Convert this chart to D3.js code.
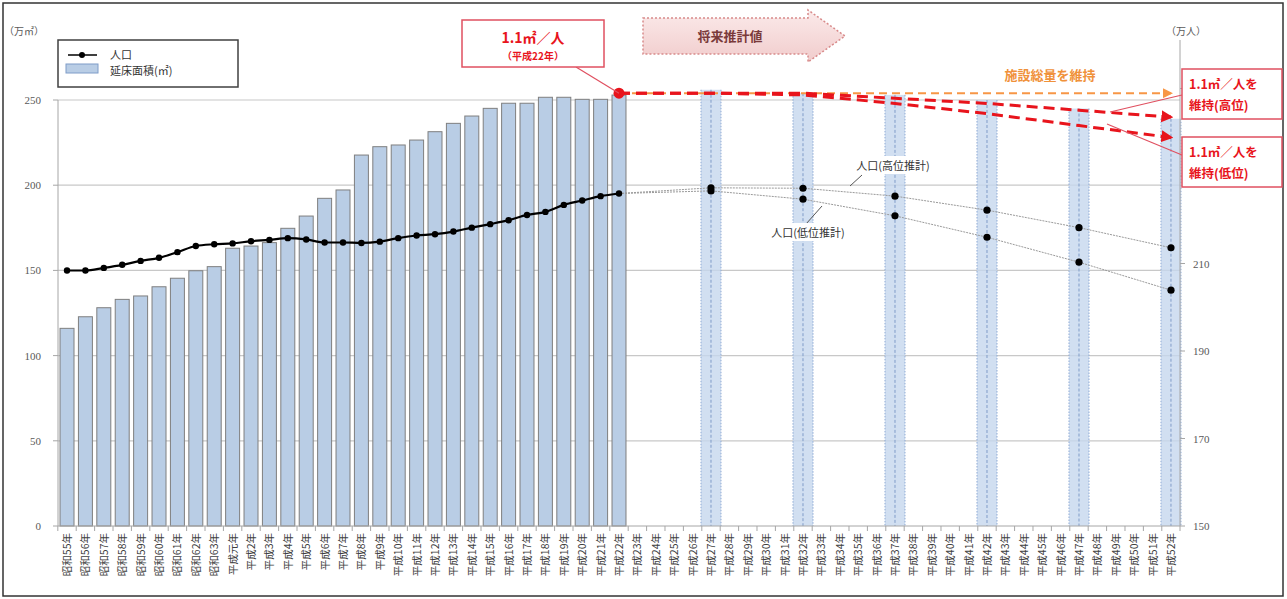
<!DOCTYPE html>
<html><head><meta charset="utf-8">
<script src="https://cdn.jsdelivr.net/npm/d3@7"></script>
<style>
html,body{margin:0;padding:0;background:#fff;}
svg{display:block;}
.jp{font-family:"Noto Sans CJK JP","Noto Sans",sans-serif;}
.num{font-family:"Liberation Serif","DejaVu Serif",serif;}
</style></head>
<body>
<script>
// ---- data ----
const categories = ["昭和55年","昭和56年","昭和57年","昭和58年","昭和59年","昭和60年","昭和61年","昭和62年","昭和63年","平成元年",
  "平成2年","平成3年","平成4年","平成5年","平成6年","平成7年","平成8年","平成9年","平成10年","平成11年","平成12年",
  "平成13年","平成14年","平成15年","平成16年","平成17年","平成18年","平成19年","平成20年","平成21年","平成22年",
  "平成23年","平成24年","平成25年","平成26年","平成27年","平成28年","平成29年","平成30年","平成31年","平成32年",
  "平成33年","平成34年","平成35年","平成36年","平成37年","平成38年","平成39年","平成40年","平成41年","平成42年",
  "平成43年","平成44年","平成45年","平成46年","平成47年","平成48年","平成49年","平成50年","平成51年","平成52年"];
const histYears = categories.slice(0, 31);
const floorArea = [116.0,122.8,128.1,133.0,135.0,140.4,145.4,149.8,152.2,163.0,164.3,166.3,174.7,181.9,192.3,197.2,
  217.7,222.6,223.6,226.5,231.4,236.3,240.6,245.1,248.1,248.1,251.6,251.6,250.4,250.4,252.9];
const population = [208.4,208.4,209.0,209.7,210.6,211.3,212.6,214.0,214.4,214.6,215.1,215.4,215.8,215.5,214.8,214.8,
  214.7,215.0,215.8,216.4,216.7,217.3,218.2,219.0,219.9,221.1,221.8,223.4,224.4,225.4,226.0];
const projYears = ["平成22年","平成27年","平成32年","平成37年","平成42年","平成47年","平成52年"];
const popHigh = [226.0,227.3,227.2,225.4,222.2,218.2,213.6];
const popLow  = [226.0,226.6,224.7,220.9,216.0,210.3,203.9];
const projBarYears = ["平成27年","平成32年","平成37年","平成42年","平成47年","平成52年"];
const projFloor = [256,254,253,250,245,239];
const keepHigh = [254,254,254,251,248,244,240];
const keepLow  = [254,254,253,248,242,235,228];
const keepTotalYears = ["平成22年","平成52年"];
const keepTotal = [254,254];
const leftTicks = [0,50,100,150,200,250];
const rightTicks = [150,170,190,210,230,250];
const rightTickLabels = [150,170,190,210]; // 230 and 250 are hidden behind the callout boxes

// ---- layout ----
const W = 1287, H = 599;
const svg = d3.select("body").append("svg").attr("width", W).attr("height", H);
const x = d3.scaleBand().domain(categories).range([58,1180]).paddingInner(0.24).paddingOuter(0.11);
const cx = c => x(c) + x.bandwidth()/2;
const yL = d3.scaleLinear().domain([0,250]).range([526,100]);
const yR = d3.scaleLinear().domain([150,260]).range([526,44.75]);

const defs = svg.append("defs");
function marker(id, color, size){
  defs.append("marker").attr("id", id).attr("viewBox","0 0 10 10").attr("refX",8).attr("refY",5)
    .attr("markerWidth",size).attr("markerHeight",size).attr("orient","auto")
    .append("path").attr("d","M0,0 L10,5 L0,10 z").attr("fill", color);
}
marker("arrRed", "#e8141c", 4);
marker("arrOrg", "#f79646", 5);
const grad = defs.append("linearGradient").attr("id","pinkGrad").attr("x1",0).attr("x2",0).attr("y1",0).attr("y2",1);
grad.append("stop").attr("offset","0%").attr("stop-color","#fbeaea");
grad.append("stop").attr("offset","100%").attr("stop-color","#f1cccc");

// outer border
svg.append("rect").attr("x",3).attr("y",3).attr("width",1280).attr("height",593)
  .attr("fill","none").attr("stroke","#333").attr("stroke-width",1.5);

// gridlines
svg.append("g").selectAll("line").data(leftTicks.filter(d=>d>0)).join("line")
  .attr("x1",58).attr("x2",1180).attr("y1",d=>yL(d)).attr("y2",d=>yL(d))
  .attr("stroke","#c8c8c8").attr("stroke-width",1.2);

// projection bars
const pb = svg.append("g");
projBarYears.forEach((c,i)=>{
  const xc = cx(c), hw = 10;
  pb.append("rect").attr("x",xc-hw).attr("y",yL(projFloor[i])).attr("width",hw*2).attr("height",yL(0)-yL(projFloor[i]))
    .attr("fill","#c6d7ee").attr("fill-opacity",0.8);
  pb.append("line").attr("x1",xc-hw).attr("x2",xc-hw).attr("y1",yL(projFloor[i])).attr("y2",yL(0))
    .attr("stroke","#8eaad4").attr("stroke-dasharray","1.5,1.5");
  pb.append("line").attr("x1",xc+hw).attr("x2",xc+hw).attr("y1",yL(projFloor[i])).attr("y2",yL(0))
    .attr("stroke","#8eaad4").attr("stroke-dasharray","1.5,1.5");
  pb.append("line").attr("x1",xc).attr("x2",xc).attr("y1",yL(projFloor[i])).attr("y2",yL(0))
    .attr("stroke","#7f9cc8").attr("stroke-dasharray","3,2");
});

// historical bars
svg.append("g").selectAll("rect").data(histYears).join("rect")
  .attr("x",d=>x(d)).attr("width",x.bandwidth())
  .attr("y",(d,i)=>yL(floorArea[i])).attr("height",(d,i)=>yL(0)-yL(floorArea[i]))
  .attr("fill","#b9cde5").attr("stroke","#7f7f7f").attr("stroke-width",1);

// axes lines
svg.append("line").attr("x1",58).attr("x2",58).attr("y1",100).attr("y2",526).attr("stroke","#a6a6a6");
svg.append("line").attr("x1",1180).attr("x2",1180).attr("y1",40).attr("y2",526).attr("stroke","#a6a6a6");
svg.append("line").attr("x1",58).attr("x2",1180).attr("y1",526).attr("y2",526).attr("stroke","#a6a6a6");
// x ticks
const stepHalfGap = x.step()*x.paddingInner()/2;
svg.append("g").selectAll("line").data(categories).join("line")
  .attr("x1",d=>x(d)-stepHalfGap).attr("x2",d=>x(d)-stepHalfGap).attr("y1",526).attr("y2",531)
  .attr("stroke","#a6a6a6");
svg.append("line").attr("x1",1180).attr("x2",1180).attr("y1",526).attr("y2",531).attr("stroke","#a6a6a6");

// left ticks
const gl = svg.append("g");
gl.selectAll("line").data(leftTicks).join("line").attr("x1",53).attr("x2",58)
  .attr("y1",d=>yL(d)).attr("y2",d=>yL(d)).attr("stroke","#a6a6a6");
gl.selectAll("text").data(leftTicks).join("text").attr("class","num")
  .attr("x",41).attr("y",d=>yL(d)+4).attr("text-anchor","end").attr("font-size",11).attr("fill","#595959").text(d=>d);
// right ticks
const gr = svg.append("g");
gr.selectAll("line").data(rightTicks).join("line").attr("x1",1180).attr("x2",1185)
  .attr("y1",d=>yR(d)).attr("y2",d=>yR(d)).attr("stroke","#a6a6a6");
gr.selectAll("text").data(rightTickLabels).join("text").attr("class","num")
  .attr("x",1193).attr("y",d=>yR(d)+4).attr("text-anchor","start").attr("font-size",11).attr("fill","#595959").text(d=>d);

// x labels
svg.append("g").selectAll("text").data(categories).join("text").attr("class","jp")
  .attr("transform",d=>`translate(${cx(d)+4},533) rotate(-90)`)
  .attr("text-anchor","end").attr("font-size",10.5).attr("fill","#404040").text(d=>d);

// axis titles
svg.append("text").attr("class","jp").attr("x",4).attr("y",35).attr("font-size",10).attr("fill","#595959").text("（万㎡）");
svg.append("text").attr("class","jp").attr("x",1166).attr("y",35).attr("font-size",10).attr("fill","#595959").text("（万人）");

// projected population lines
const projLine = d3.line().x(d=>cx(d[0])).y(d=>yR(d[1]));
[popHigh, popLow].forEach(arr=>{
  const pts = projYears.map((c,i)=>[c,arr[i]]);
  svg.append("path").attr("d",projLine(pts)).attr("fill","none").attr("stroke","#9a9a9a").attr("stroke-width",1)
    .attr("stroke-dasharray","2,1");
  svg.append("g").selectAll("circle").data(pts.slice(1)).join("circle")
    .attr("cx",d=>cx(d[0])).attr("cy",d=>yR(d[1])).attr("r",3.6).attr("fill","#000");
});

// historical population
const popPts = histYears.map((c,i)=>[c,population[i]]);
svg.append("path").attr("d",d3.line().x(d=>cx(d[0])).y(d=>yR(d[1])).curve(d3.curveMonotoneX)(popPts))
  .attr("fill","none").attr("stroke","#000").attr("stroke-width",2.2);
svg.append("g").selectAll("circle").data(popPts).join("circle")
  .attr("cx",d=>cx(d[0])).attr("cy",d=>yR(d[1])).attr("r",3.2).attr("fill","#000");

// projection labels with leader lines
function label(txt, xc, yc, lx1, ly1, lx2, ly2){
  svg.append("line").attr("x1",lx1).attr("y1",ly1).attr("x2",lx2).attr("y2",ly2).attr("stroke","#555").attr("stroke-width",1);
  svg.append("rect").attr("x",xc-47).attr("y",yc-10).attr("width",94).attr("height",18).attr("fill","#fff");
  svg.append("text").attr("class","jp").attr("x",xc).attr("y",yc+4).attr("text-anchor","middle")
    .attr("font-size",11).attr("fill","#333").text(txt);
}
label("人口(高位推計)", 893, 166, 850, 186, 862, 175);
label("人口(低位推計)", 808, 233, 822, 206, 806, 224);

// keep lines (dashed)
const kLine = d3.line().x(d=>cx(d[0])).y(d=>yL(d[1]));
svg.append("path").attr("d",kLine(keepTotalYears.map((c,i)=>[c,keepTotal[i]])))
  .attr("fill","none").attr("stroke","#f79646").attr("stroke-width",2).attr("stroke-dasharray","8,5")
  .attr("marker-end","url(#arrOrg)");
[keepHigh, keepLow].forEach(arr=>{
  svg.append("path").attr("d",kLine(projYears.map((c,i)=>[c,arr[i]])))
    .attr("fill","none").attr("stroke","#e8141c").attr("stroke-width",3).attr("stroke-dasharray","11,6")
    .attr("marker-end","url(#arrRed)");
});
svg.append("text").attr("class","jp").attr("x",1050).attr("y",80).attr("text-anchor","middle")
  .attr("font-size",13).attr("font-weight","bold").attr("fill","#f0913a").text("施設総量を維持");

// red dot at 平成22
svg.append("circle").attr("cx",cx("平成22年")).attr("cy",yL(keepHigh[0])).attr("r",5.5).attr("fill","#e8141c");

// annotation box 平成22
svg.append("line").attr("x1",576).attr("y1",67).attr("x2",cx("平成22年")).attr("y2",yL(keepHigh[0])).attr("stroke","#e05060").attr("stroke-width",1.2);
svg.append("rect").attr("x",462).attr("y",20).attr("width",142).attr("height",47).attr("fill","#fff").attr("stroke","#e05060").attr("stroke-width",1.5);
svg.append("text").attr("class","jp").attr("x",533).attr("y",43).attr("text-anchor","middle").attr("font-size",14).attr("font-weight","bold").attr("fill","#e8141c").text("1.1㎡／人");
svg.append("text").attr("class","jp").attr("x",533).attr("y",60).attr("text-anchor","middle").attr("font-size",10).attr("font-weight","bold").attr("fill","#e8141c").text("（平成22年）");

// future arrow
svg.append("path").attr("d","M643,18 L808,18 L808,10 L845,36 L808,62 L808,54 L643,54 Z")
  .attr("fill","url(#pinkGrad)").attr("stroke","#d88a8a").attr("stroke-width",1.5).attr("stroke-dasharray","2,2");
svg.append("text").attr("class","jp").attr("x",730).attr("y",41).attr("text-anchor","middle").attr("font-size",13)
  .attr("font-weight","bold").attr("fill","#7a3a3a").text("将来推計値");

// right boxes
function rbox(y0, l1, l2, lx1, ly1, lx2, ly2){
  svg.append("line").attr("x1",lx1).attr("y1",ly1).attr("x2",lx2).attr("y2",ly2).attr("stroke","#e05060").attr("stroke-width",1.2);
  svg.append("rect").attr("x",1182).attr("y",y0).attr("width",100).attr("height",50).attr("fill","#fff").attr("stroke","#e05060").attr("stroke-width",1.5);
  svg.append("text").attr("class","jp").attr("x",1189).attr("y",y0+20).attr("font-size",12.5).attr("font-weight","bold").attr("fill","#e8141c").text(l1);
  svg.append("text").attr("class","jp").attr("x",1189).attr("y",y0+41).attr("font-size",12.5).attr("font-weight","bold").attr("fill","#e8141c").text(l2);
}
rbox(69, "1.1㎡／人を", "維持(高位)", 1182, 95, 1110, 112);
rbox(137, "1.1㎡／人を", "維持(低位)", 1182, 155, 1107, 124);

// legend
const lg = svg.append("g");
lg.append("rect").attr("x",58).attr("y",40).attr("width",180).attr("height",47).attr("fill","#fff").attr("stroke","#404040").attr("stroke-width",1.5);
lg.append("line").attr("x1",68).attr("x2",97).attr("y1",55).attr("y2",55).attr("stroke","#000").attr("stroke-width",1.5);
lg.append("circle").attr("cx",82).attr("cy",55).attr("r",3).attr("fill","#000");
lg.append("text").attr("class","jp").attr("x",110).attr("y",59).attr("font-size",11).attr("fill","#333").text("人口");
lg.append("rect").attr("x",66).attr("y",64).attr("width",32).attr("height",9).attr("fill","#b9cde5").attr("stroke","#7f9cc8");
lg.append("text").attr("class","jp").attr("x",110).attr("y",75).attr("font-size",11).attr("fill","#333").text("延床面積(㎡)");
</script>
</body></html>
